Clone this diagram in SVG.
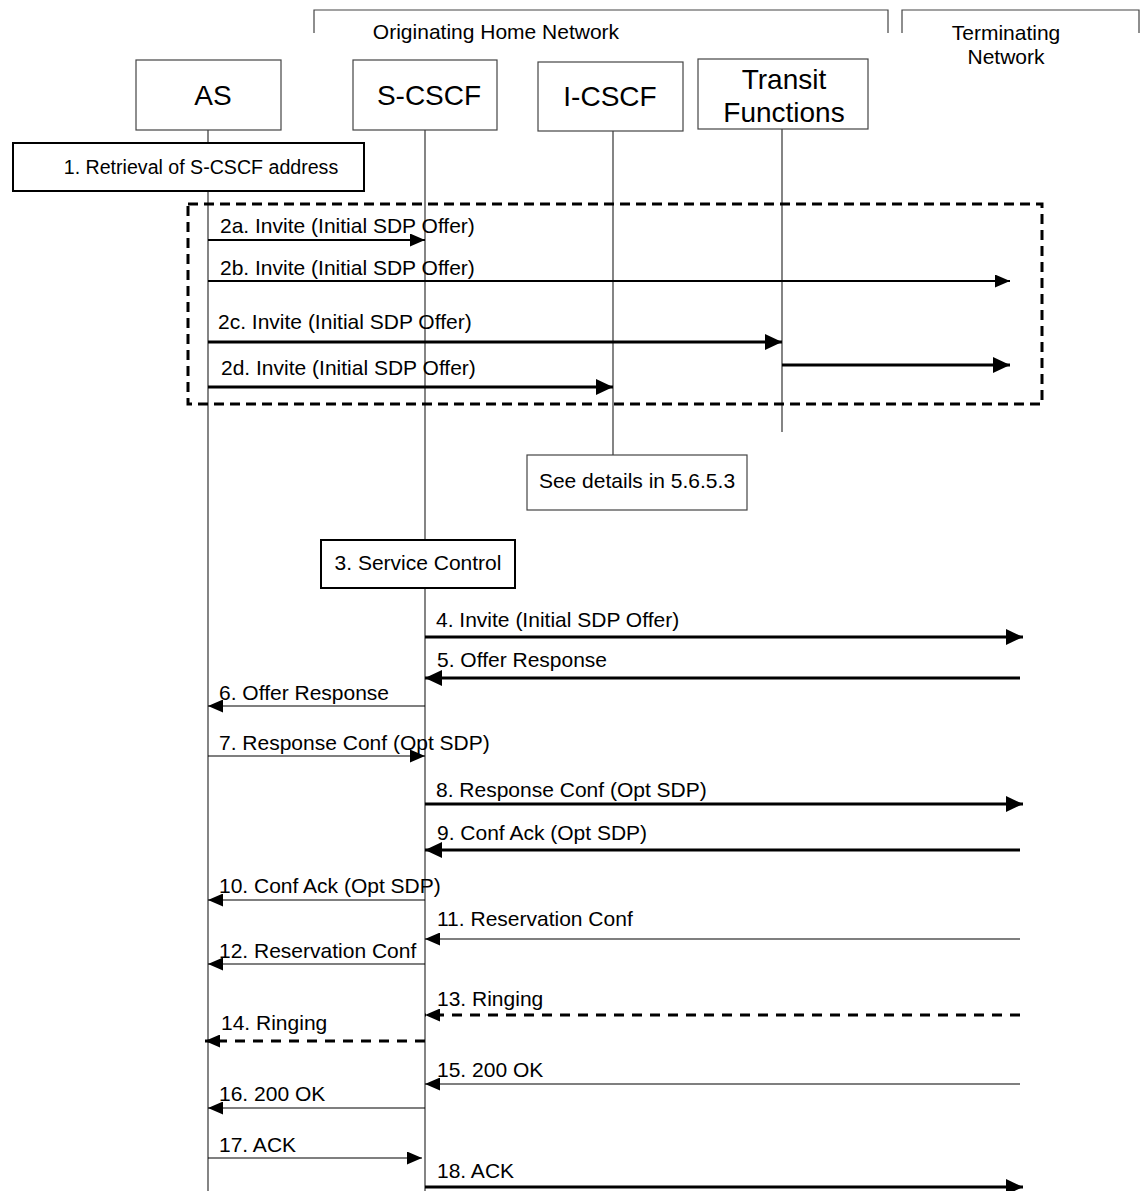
<svg xmlns="http://www.w3.org/2000/svg" width="1141" height="1191" viewBox="0 0 1141 1191">
<style>
text{font-family:"Liberation Sans",Arial,sans-serif;fill:#000}
.lbl{font-size:21px}
.node{font-size:28px;text-anchor:middle}
.hdr{font-size:21px;text-anchor:middle}
.box{fill:#fff;stroke:#444;stroke-width:1.2}
.tbox{fill:#fff;stroke:#000;stroke-width:2}
.life{stroke:#333;stroke-width:1.2;fill:none}
.br{stroke:#444;stroke-width:1.2;fill:none}
.m{stroke:#000;fill:none}
.w1{stroke-width:1.2}
.w2{stroke-width:2}
.w3{stroke-width:3.2}
.dash{stroke-dasharray:10 8}
</style>
<defs>
<marker id="ah" markerUnits="userSpaceOnUse" markerWidth="16" markerHeight="13" refX="15" refY="6.5" orient="auto"><path d="M0,0 L15,6.5 L0,13 z" fill="#000"/></marker>
<marker id="ahb" markerUnits="userSpaceOnUse" markerWidth="18" markerHeight="16" refX="17" refY="8" orient="auto"><path d="M0,0 L17,8 L0,16 z" fill="#000"/></marker>
</defs>
<rect width="1141" height="1191" fill="#fff"/>

<g id="brackets">
<path class="br" d="M314,33 V10 H888 V33"/>
<path class="br" d="M902,33 V10 H1139 V33"/>
<text class="hdr" x="496" y="39">Originating Home Network</text>
<text class="hdr" x="1006" y="40">Terminating</text>
<text class="hdr" x="1006" y="64">Network</text>
</g>

<g id="lifelines">
<line class="life" x1="208" y1="130" x2="208" y2="1191"/>
<line class="life" x1="425" y1="130" x2="425" y2="1191"/>
<line class="life" x1="613" y1="131" x2="613" y2="455"/>
<line class="life" x1="782" y1="129" x2="782" y2="432"/>
</g>

<g id="AS"><rect class="box" x="136" y="60" width="145" height="70"/><text class="node" x="213" y="105">AS</text></g>
<g id="S-CSCF"><rect class="box" x="353" y="60" width="144" height="70"/><text class="node" x="429" y="105">S-CSCF</text></g>
<g id="I-CSCF"><rect class="box" x="538" y="62" width="145" height="69"/><text class="node" x="610" y="106">I-CSCF</text></g>
<g id="Transit"><rect class="box" x="698" y="59" width="170" height="70"/><text class="node" x="784" y="89">Transit</text><text class="node" x="784" y="122">Functions</text></g>

<g id="step1"><rect class="tbox" x="13" y="143" width="351" height="48"/><text x="201" y="174" text-anchor="middle" font-size="19.6">1. Retrieval of S-CSCF address</text></g>

<g id="alt-box"><rect x="188" y="204" width="854" height="200" fill="none" stroke="#000" stroke-width="3" stroke-dasharray="10 6"/></g>

<g id="details"><rect class="box" x="527" y="455" width="220" height="55" stroke="#000"/><text class="lbl" x="637" y="488" text-anchor="middle">See details in 5.6.5.3</text></g>

<g id="step3"><rect class="tbox" x="321" y="540" width="194" height="48"/><text class="lbl" x="418" y="570" text-anchor="middle">3. Service Control</text></g>

<g id="connectors">
<line class="m w2" x1="208" y1="240" x2="425" y2="240" marker-end="url(#ah)"/>
<line class="m w2" x1="208" y1="281" x2="1010" y2="281" marker-end="url(#ah)"/>
<line class="m w3" x1="208" y1="342" x2="782" y2="342" marker-end="url(#ahb)"/>
<line class="m w3" x1="208" y1="387" x2="613" y2="387" marker-end="url(#ahb)"/>
<line class="m w3" x1="782" y1="365" x2="1010" y2="365" marker-end="url(#ahb)"/>
<line class="m w3" x1="425" y1="637" x2="1023" y2="637" marker-end="url(#ahb)"/>
<line class="m w3" x1="1020" y1="678" x2="425" y2="678" marker-end="url(#ahb)"/>
<line class="m w1" x1="425" y1="706" x2="208" y2="706" marker-end="url(#ah)"/>
<line class="m w1" x1="208" y1="756" x2="425" y2="756" marker-end="url(#ah)"/>
<line class="m w3" x1="425" y1="804" x2="1023" y2="804" marker-end="url(#ahb)"/>
<line class="m w3" x1="1020" y1="850" x2="425" y2="850" marker-end="url(#ahb)"/>
<line class="m w1" x1="425" y1="900" x2="208" y2="900" marker-end="url(#ah)"/>
<line class="m w1" x1="1020" y1="939" x2="425" y2="939" marker-end="url(#ah)"/>
<line class="m w1" x1="425" y1="964" x2="208" y2="964" marker-end="url(#ah)"/>
<line class="m w3 dash" x1="1020" y1="1015" x2="425" y2="1015" marker-end="url(#ah)"/>
<line class="m w3 dash" x1="425" y1="1041" x2="205" y2="1041" marker-end="url(#ah)"/>
<line class="m w1" x1="1020" y1="1084" x2="425" y2="1084" marker-end="url(#ah)"/>
<line class="m w1" x1="425" y1="1108" x2="208" y2="1108" marker-end="url(#ah)"/>
<line class="m w1" x1="208" y1="1158" x2="422" y2="1158" marker-end="url(#ah)"/>
<line class="m w3" x1="425" y1="1187" x2="1023" y2="1187" marker-end="url(#ahb)"/>
</g>

<g id="labels">
<text class="lbl" x="220" y="233">2a. Invite (Initial SDP Offer)</text>
<text class="lbl" x="220" y="275">2b. Invite (Initial SDP Offer)</text>
<text class="lbl" x="218" y="329">2c. Invite (Initial SDP Offer)</text>
<text class="lbl" x="221" y="375">2d. Invite (Initial SDP Offer)</text>
<text class="lbl" x="436" y="627">4. Invite (Initial SDP Offer)</text>
<text class="lbl" x="437" y="667">5. Offer Response</text>
<text class="lbl" x="219" y="700">6. Offer Response</text>
<text class="lbl" x="219" y="750">7. Response Conf (Opt SDP)</text>
<text class="lbl" x="436" y="797">8. Response Conf (Opt SDP)</text>
<text class="lbl" x="437" y="840">9. Conf Ack (Opt SDP)</text>
<text class="lbl" x="219" y="893">10. Conf Ack (Opt SDP)</text>
<text class="lbl" x="437" y="926">11. Reservation Conf</text>
<text class="lbl" x="219" y="958">12. Reservation Conf</text>
<text class="lbl" x="437" y="1006">13. Ringing</text>
<text class="lbl" x="221" y="1030">14. Ringing</text>
<text class="lbl" x="437" y="1077">15. 200 OK</text>
<text class="lbl" x="219" y="1101">16. 200 OK</text>
<text class="lbl" x="219" y="1152">17. ACK</text>
<text class="lbl" x="437" y="1178">18. ACK</text>
</g>
</svg>
